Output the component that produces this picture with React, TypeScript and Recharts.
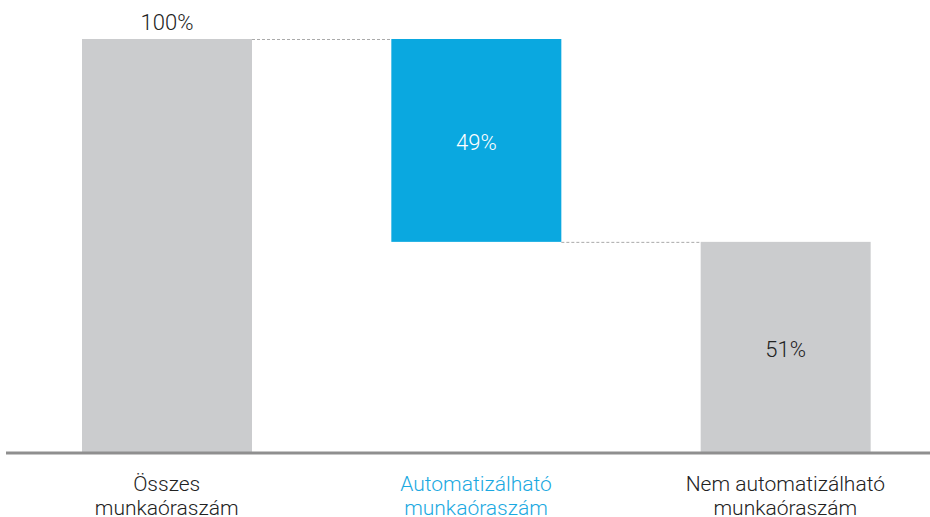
import React from 'react';
import { BarChart, Bar, XAxis, YAxis, LabelList } from 'recharts';

const categories = ['Összes munkaóraszám', 'Automatizálható munkaóraszám', 'Nem automatizálható munkaóraszám'];
const tickLines = [
  ['Összes', 'munkaóraszám'],
  ['Automatizálható', 'munkaóraszám'],
  ['Nem automatizálható', 'munkaóraszám'],
];
const baseValues = [0, 51, 0];
const barValues = [100, 49, 51];
const connectorLevels = [100, 51, null];
const barColors = ['#CBCCCE', '#0AA8E0', '#CBCCCE'];
const tickColors = ['#222222', '#1BA9E1', '#222222'];
const labelColors = ['#222222', '#FFFFFF', '#222222'];

const data = categories.map((c, i) => ({
  name: c,
  base: baseValues[i],
  value: barValues[i],
  connector: connectorLevels[i],
  idx: i,
}));

const CHART_W = 940;
const MARGIN_L = 6;
const PAD_L = 6;
const BAR_SIZE = 170;
const BAND = (CHART_W - MARGIN_L - PAD_L) / categories.length;
const GAP = BAND - BAR_SIZE;
const FONT = 'Roboto, "Liberation Sans", sans-serif';

const BarShape = (props: any) => {
  const { x, y, width, height, payload, fill } = props;
  const i = payload.idx;
  let connectorY: number | null = null;
  if (payload.connector != null) {
    const top = payload.base + payload.value;
    connectorY = payload.connector === top ? y : y + height;
  }
  return (
    <g>
      <rect x={x} y={y} width={width} height={height} fill={fill} />
      {connectorY != null && i < categories.length - 1 && (
        <line
          x1={x + width}
          x2={x + width + GAP}
          y1={connectorY + 0.5}
          y2={connectorY + 0.5}
          stroke="#AAAAAA"
          strokeWidth={1}
          strokeDasharray="3 2"
        />
      )}
    </g>
  );
};

const ValueLabel = (props: any) => {
  const { x, y, width, height, value, index } = props;
  const cx = x + width / 2;
  const ty = index === 0 ? y - 9 : y + height / 2 + 10;
  return (
    <text x={cx} y={ty} textAnchor="middle" fill={labelColors[index]} fontSize={22} fontFamily={FONT} fontWeight={300}>
      {value}%
    </text>
  );
};

const Tick = (props: any) => {
  const { x, y, index } = props;
  const lines = tickLines[index] || [];
  return (
    <g>
      {lines.map((l, k) => (
        <text key={k} x={x} y={y + 30 + k * 24} textAnchor="middle" fill={tickColors[index]} fontSize={21} fontFamily={FONT} fontWeight={300}>
          {l}
        </text>
      ))}
    </g>
  );
};

export default function App() {
  return (
    <div style={{ position: 'absolute', left: 0, top: 0, width: 930, height: 517, overflow: 'hidden', background: '#fff' }}>
      <BarChart width={CHART_W} height={517} data={data} margin={{ top: 39, right: 0, left: MARGIN_L, bottom: 0 }} barSize={BAR_SIZE}>
        <XAxis
          dataKey="name"
          padding={{ left: PAD_L, right: 0 }}
          height={64}
          axisLine={{ stroke: '#8F8F8F', strokeWidth: 3 }}
          tickLine={false}
          tick={<Tick />}
          interval={0}
        />
        <YAxis hide domain={[0, 100]} />
        <Bar dataKey="base" stackId="a" fill="transparent" isAnimationActive={false} />
        <Bar dataKey="value" stackId="a" isAnimationActive={false} shape={(p: any) => <BarShape {...p} fill={barColors[p.payload.idx]} />}>
          <LabelList dataKey="value" content={<ValueLabel />} />
        </Bar>
      </BarChart>
    </div>
  );
}
